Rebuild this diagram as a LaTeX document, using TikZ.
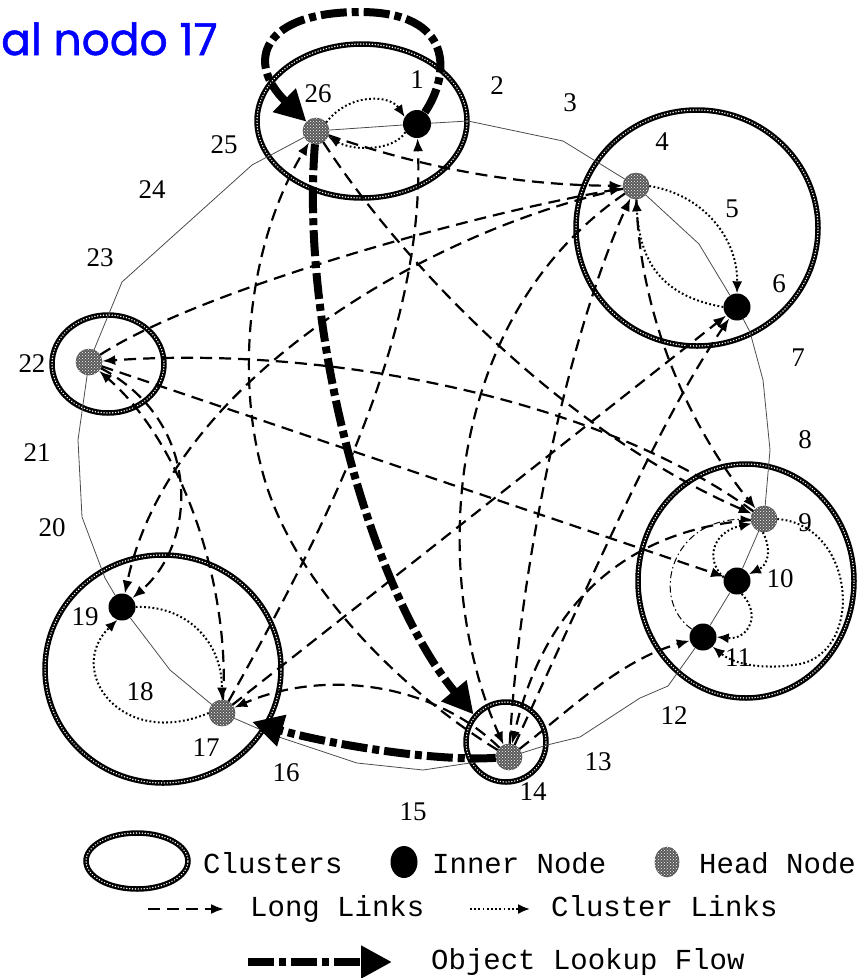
\documentclass[tikz,border=0pt]{standalone}
\usepackage{fontspec}
\setmainfont{Liberation Serif}
\newfontfamily\legendfont{Liberation Mono}
\newfontfamily\titlefont[FakeBold=1.2]{Poppins}
\usetikzlibrary{arrows.meta,shapes.geometric,patterns}
\begin{document}
\begin{tikzpicture}[x=1pt,y=-1pt,
  ringline/.style={draw=black!70, line width=0.8pt},
  clusterring/.style={ellipse, draw=black, line width=5.5pt, inner sep=0pt,
     postaction={draw=white, line width=1.5pt, dash pattern=on 0.1pt off 2.8pt, line cap=round}},
  headnode/.style={circle, inner sep=0pt, minimum size=26pt, draw=black!70, line width=0.6pt,
     fill=black!65, postaction={pattern=crosshatch dots, pattern color=white}},
  innernode/.style={circle, inner sep=0pt, minimum size=27pt, fill=black},
  lbl/.style={font=\fontsize{27}{27}\selectfont, inner sep=0pt},
  longlink/.style={draw, line width=2.2pt, dash pattern=on 12pt off 7pt, -{Latex[length=13pt,width=10pt]}},
  clink/.style={draw, line width=2pt, dash pattern=on 1.8pt off 2.4pt, -{Latex[length=12pt,width=10pt]}},
  lookupflow/.style={draw, line width=8pt, dash pattern=on 26pt off 5pt on 7pt off 5pt, -{Triangle[length=31pt,width=31pt]}},
  ddlink/.style={draw, line width=1pt, dash pattern=on 7pt off 3pt on 1.5pt off 3pt, -{Latex[length=10pt,width=8pt]}},
  legtext/.style={font=\legendfont\fontsize{29}{29}\selectfont, inner sep=0pt, anchor=base west}
]
\useasboundingbox (0,0) rectangle (862,978);

% title
\node[font=\titlefont\fontsize{44}{44}\selectfont, text=blue, anchor=base west, inner sep=0pt] (title) at (1,55) {al nodo 17};

% peers
\node[headnode]  (n26) at (316,131) {};
\node[innernode, minimum size=28pt] (n1) at (417,124) {};
\node[headnode]  (n4)  at (636,186) {};
\node[innernode] (n6)  at (737,307) {};
\node[headnode]  (n9)  at (764,519) {};
\node[innernode] (n10) at (737,581) {};
\node[innernode] (n11) at (703,637) {};
\node[headnode]  (n14) at (509,757) {};
\node[headnode]  (n17) at (222,713) {};
\node[innernode] (n19) at (122,607) {};
\node[headnode]  (n22) at (89,362) {};

% clusters
\node[clusterring, minimum width=210pt, minimum height=154pt] (c1)  at (362,121) {};
\node[clusterring, minimum width=242pt, minimum height=236pt] (c4)  at (697,228) {};
\node[clusterring, minimum width=216pt, minimum height=234pt] (c9)  at (746,581) {};
\node[clusterring, minimum width=112pt, minimum height=98pt]  (c22) at (108,364) {};
\node[clusterring, minimum width=236pt, minimum height=228pt] (c17) at (163,669) {};
\node[clusterring, minimum width=80pt,  minimum height=80pt]  (c14) at (506,742) {};

% ring
\draw[ringline] (n26) -- (n1) -- (468,121) -- (563,141) -- (n4) -- (699,244) -- (n6)
  -- (750,332) -- (763,380) -- (770,450) -- (n9) -- (n10) -- (n11) -- (668,686) -- (640,698)
  -- (580,737) -- (547,745) -- (n14) -- (470,763) -- (423,770) -- (357,763) -- (273,735)
  -- (n17) -- (170,670) -- (n19) -- (105,578) -- (82,517) -- (78,440) -- (n22)
  -- (122,282) -- (252,165) -- (n26);

% numbers
\node[lbl] (t1)  at (417,80)  {1};
\node[lbl] (t2)  at (497,86)  {2};
\node[lbl] (t3)  at (570,103) {3};
\node[lbl] (t4)  at (662,142) {4};
\node[lbl] (t5)  at (732,209) {5};
\node[lbl] (t6)  at (779,284) {6};
\node[lbl] (t7)  at (798,358) {7};
\node[lbl] (t8)  at (805,440) {8};
\node[lbl] (t9)  at (805,523) {9};
\node[lbl] (t10) at (780,579) {10};
\node[lbl] (t11) at (738,658) {11};
\node[lbl] (t12) at (674,716) {12};
\node[lbl] (t13) at (598,762) {13};
\node[lbl] (t14) at (533,792) {14};
\node[lbl] (t15) at (413,812) {15};
\node[lbl] (t16) at (286,773) {16};
\node[lbl] (t17) at (206,748) {17};
\node[lbl] (t18) at (140,692) {18};
\node[lbl] (t19) at (85,617)  {19};
\node[lbl] (t20) at (52,528)  {20};
\node[lbl] (t21) at (37,453)  {21};
\node[lbl] (t22) at (32,364)  {22};
\node[lbl] (t23) at (100,258) {23};
\node[lbl] (t24) at (152,190) {24};
\node[lbl] (t25) at (224,145) {25};
\node[lbl] (t26) at (318,94)  {26};

% long links
\draw[longlink] (n26) .. controls (430,170) and (520,185) .. (n4);
\draw[longlink] (n26) .. controls (400,260) and (560,430) .. (n9);
\draw[longlink] (n14) .. controls (400,690) and (290,580) .. (262,470) .. controls (235,370) and (250,240) .. (n26);
\draw[longlink] (n17) .. controls (330,520) and (425,330) .. (n1);
\draw[longlink] (n14) .. controls (520,560) and (570,330) .. (n4);
\draw[longlink] (n4) .. controls (440,320) and (430,580) .. (n14);
\draw[longlink] (n4) .. controls (430,230) and (170,380) .. (n19);
\draw[longlink] (n22) .. controls (200,290) and (470,215) .. (n4);
\draw[longlink] (n9) .. controls (600,400) and (330,345) .. (n22);
\draw[longlink] (n22) -- (n10);
\draw[longlink] (n22) .. controls (200,420) and (200,540) .. (n19);
\draw[longlink] (n17) .. controls (230,600) and (190,450) .. (n22);
\draw[longlink] (n17) -- (n6);
\draw[longlink] (n14) .. controls (600,560) and (660,420) .. (n6);
\draw[longlink] (n14) .. controls (430,680) and (320,670) .. (n17);
\draw[longlink] (n14) .. controls (570,710) and (620,660) .. (n11);
\draw[longlink] (n4) .. controls (640,330) and (700,440) .. (n9);
\draw[longlink] (n9) .. controls (630,530) and (545,600) .. (n14);
\draw[ddlink] (n11) .. controls (650,600) and (670,520) .. (n9);

% cluster links
\draw[clink] (n26.40) .. controls (350,92) and (390,95) .. (n1.150);
\draw[clink] (n1.215) .. controls (395,150) and (355,152) .. (n26.-25);
\draw[clink] (n4.east) .. controls (705,195) and (738,240) .. (n6.north);
\draw[clink] (n6.west) .. controls (655,295) and (640,255) .. (n4.south);
\draw[clink] (n9.-95) .. controls (772,550) and (768,565) .. (n10.30);
\draw[clink] (n10.165) .. controls (705,560) and (712,532) .. (n9.200);
\draw[clink] (n10.-70) .. controls (762,615) and (748,640) .. (n11.east);
\draw[clink] (n9.east) .. controls (855,525) and (865,650) .. (800,664) .. controls (765,670) and (735,665) .. (n11.-45);
\draw[clink] (n19.east) .. controls (185,605) and (222,640) .. (n17.north);
\draw[clink] (n17.west) .. controls (120,750) and (65,670) .. (n19.-110);

% object lookup flow
\draw[lookupflow] (n1) .. controls (450,75) and (455,12) .. (360,12) .. controls (262,12) and (245,62) .. (n26);
\draw[lookupflow, shorten >=42pt] (n26) .. controls (300,330) and (370,590) .. (n14);
\draw[lookupflow, shorten >=18pt] (n14) .. controls (430,762) and (320,742) .. (n17);

% legend
\node[clusterring, minimum width=102pt, minimum height=56pt] (lgc) at (137,861) {};
\node[legtext] (lgct) at (203,873) {Clusters};
\node[ellipse, fill=black, minimum width=27pt, minimum height=32pt, inner sep=0pt] (lgi) at (404,862) {};
\node[legtext] (lgit) at (432,873) {Inner Node};
\node[headnode, ellipse, minimum width=24pt, minimum height=30pt] (lgh) at (667,862) {};
\node[legtext] (lght) at (699,873) {Head Node};
\coordinate (lgl1) at (148,909);
\coordinate (lgl2) at (224,909);
\draw[longlink] (lgl1) -- (lgl2);
\node[legtext] (lglt) at (250,916) {Long Links};
\coordinate (lgd1) at (470,909);
\coordinate (lgd2) at (530,909);
\draw[clink] (lgd1) -- (lgd2);
\node[legtext] (lgdt) at (551,916) {Cluster Links};
\coordinate (lgf1) at (248,962);
\coordinate (lgf2) at (392,962);
\draw[lookupflow] (lgf1) -- (lgf2);
\node[legtext] (lgft) at (431,969) {Object Lookup Flow};
\end{tikzpicture}
\end{document}
